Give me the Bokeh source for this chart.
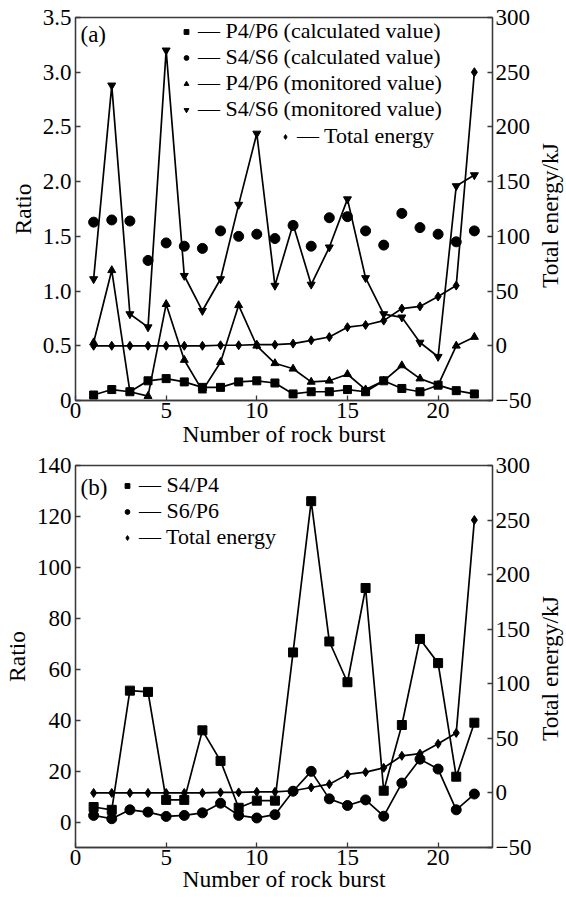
import math
from bokeh.plotting import figure
from bokeh.models import Range1d, LinearAxis, Legend, LegendItem, Label, FixedTicker
from bokeh.layouts import column, row
from bokeh.embed import file_html
from bokeh.resources import INLINE

FONT = "Liberation Serif"

burst = list(range(1, 23))

# Panel (a)
p4p6_calc = [0.05, 0.10, 0.08, 0.18, 0.20, 0.17, 0.12, 0.12, 0.17, 0.18, 0.16, 0.06,
             0.08, 0.08, 0.10, 0.08, 0.18, 0.11, 0.08, 0.14, 0.09, 0.06]
s4s6_calc = [1.63, 1.65, 1.64, 1.28, 1.44, 1.41, 1.39, 1.55, 1.50, 1.52, 1.48, 1.60,
             1.41, 1.67, 1.68, 1.55, 1.42, 1.71, 1.58, 1.52, 1.45, 1.55]
p4p6_mon = [0.53, 1.19, 0.08, 0.04, 0.88, 0.37, 0.09, 0.35, 0.87, 0.50, 0.34, 0.29,
            0.17, 0.18, 0.24, 0.10, 0.18, 0.32, 0.20, 0.14, 0.50, 0.58]
s4s6_mon = [1.11, 2.88, 0.79, 0.67, 3.20, 1.14, 0.82, 1.11, 1.79, 2.44, 1.05, 1.61,
            1.06, 1.40, 1.84, 1.12, 0.79, 0.76, 0.53, 0.40, 1.96, 2.06]
energy = [0, 0, 0, 0, 0, 0, 0, 0.5, 0.5, 1, 1, 2, 5, 8, 17, 19, 23, 34, 36, 45, 55, 250]

# Panel (b)
s4p4 = [5.9, 4.8, 51.6, 51.1, 8.7, 8.7, 36, 24, 5.6, 8.4, 8.4, 66.6, 126, 70.9, 54.9,
        91.9, 12.3, 38.1, 71.9, 62.4, 17.8, 39]
s6p6 = [2.6, 1.3, 4.8, 3.9, 2.2, 2.6, 3.6, 7.4, 2.6, 1.6, 2.9, 12.1, 19.9, 9.1, 6.5,
        8.7, 2.3, 15.3, 24.7, 20.8, 4.8, 11]

x_ticks = [0, 5, 10, 15, 20]
ya_ticks = [0, 0.5, 1.0, 1.5, 2.0, 2.5, 3.0, 3.5]
ya_labels = ["0", "0.5", "1.0", "1.5", "2.0", "2.5", "3.0", "3.5"]
yb_ticks = [0, 20, 40, 60, 80, 100, 120, 140]
e_ticks = [-50, 0, 50, 100, 150, 200, 250, 300]
e_labels = ["\u221250", "0", "50", "100", "150", "200", "250", "300"]

TICK_FS = "23px"
LABEL_FS = "23.5px"
LEG_FS = "22px"
LW = 1.7
AXC = "#3a3a3a"


def style_axis(ax):
    ax.major_label_text_font = FONT
    ax.major_label_text_font_size = TICK_FS
    ax.axis_label_text_font = FONT
    ax.axis_label_text_font_size = LABEL_FS
    ax.axis_label_text_font_style = "normal"
    ax.axis_line_color = AXC
    ax.axis_line_width = 1.3
    ax.major_tick_line_color = AXC
    ax.major_tick_line_width = 1.3
    ax.minor_tick_line_color = None
    ax.major_label_text_color = "black"
    ax.axis_label_text_color = "black"
    ax.major_tick_in = 5
    ax.major_tick_out = 0


def make_fig(fh, top, bottom, yr, yticks, ylabels, xl_standoff):
    p = figure(frame_width=417, frame_height=fh, x_range=Range1d(0, 23),
               y_range=Range1d(*yr), output_backend="svg", toolbar_location=None,
               min_border_left=75, min_border_right=40, min_border_top=top,
               min_border_bottom=bottom)
    p.extra_y_ranges = {"e": Range1d(-50, 300)}
    p.grid.visible = False
    p.outline_line_color = AXC
    p.outline_line_width = 1.3
    p.background_fill_color = "white"
    p.border_fill_color = "white"
    xa = p.xaxis[0]
    xa.ticker = FixedTicker(ticks=x_ticks)
    xa.axis_label = "Number of rock burst"
    style_axis(xa)
    xa.major_label_standoff = 2
    xa.axis_label_standoff = xl_standoff
    ya = p.yaxis[0]
    ya.ticker = FixedTicker(ticks=yticks)
    ya.major_label_overrides = {t: l for t, l in zip(yticks, ylabels)}
    ya.axis_label = "Ratio"
    style_axis(ya)
    ya.major_label_standoff = 4
    ya.axis_label_standoff = 4
    ra = LinearAxis(y_range_name="e")
    ra.ticker = FixedTicker(ticks=e_ticks)
    ra.major_label_overrides = {t: l for t, l in zip(e_ticks, e_labels)}
    style_axis(ra)
    ra.major_label_standoff = 3
    p.add_layout(ra, "right")
    return p


def make_legend(items, loc):
    return Legend(items=items, location=loc, background_fill_alpha=0,
                  border_line_color=None, padding=0, margin=0, spacing=-3,
                  glyph_width=12, glyph_height=21, label_height=21,
                  label_standoff=6, label_text_font=FONT,
                  label_text_font_size=LEG_FS, label_text_color="black")


# ---------- Panel (a)
pa = make_fig(383, 17, 20, (0, 3.5), ya_ticks, ya_labels, 0)

pa.line(burst, energy, y_range_name="e", color="black", line_width=LW)
e_a = pa.scatter(burst, energy, y_range_name="e", marker="diamond", size=9, color="black")
pa.line(burst, p4p6_calc, color="black", line_width=LW)
sq_a = pa.scatter(burst, p4p6_calc, marker="square", size=8, color="black")
ci_a = pa.scatter(burst, s4s6_calc, marker="circle", size=10, color="black")
pa.line(burst, p4p6_mon, color="black", line_width=LW)
tu_a = pa.scatter(burst, p4p6_mon, marker="triangle", size=8, color="black")
pa.line(burst, s4s6_mon, color="black", line_width=LW)
td_a = pa.scatter(burst, s4s6_mon, marker="inverted_triangle", size=8, color="black")

leg1 = make_legend([
    LegendItem(label="\u2014 P4/P6 (calculated value)", renderers=[sq_a]),
    LegendItem(label="\u2014 S4/S6 (calculated value)", renderers=[ci_a]),
    LegendItem(label="\u2014 P4/P6 (monitored value)", renderers=[tu_a]),
    LegendItem(label="\u2014 S4/S6 (monitored value)", renderers=[td_a]),
], (105, 278))
leg2 = make_legend([LegendItem(label="\u2014 Total energy", renderers=[e_a])], (204, 251))
pa.add_layout(leg1)
pa.add_layout(leg2)
pa.add_layout(Label(x=5, y=366, x_units="screen", y_units="screen", text="(a)",
                    text_baseline="middle", text_font=FONT, text_font_size="23px",
                    text_color="black"))

# ---------- Panel (b)
pb = make_fig(382, 16, 20, (-10, 140), yb_ticks, [str(t) for t in yb_ticks], -2)
pb.line(burst, energy, y_range_name="e", color="black", line_width=LW)
e_b = pb.scatter(burst, energy, y_range_name="e", marker="diamond", size=9, color="black")
pb.line(burst, s4p4, color="black", line_width=LW)
sq_b = pb.scatter(burst, s4p4, marker="square", size=9, color="black")
pb.line(burst, s6p6, color="black", line_width=LW)
ci_b = pb.scatter(burst, s6p6, marker="circle", size=10, color="black")

leg3 = make_legend([
    LegendItem(label="\u2014 S4/P4", renderers=[sq_b]),
    LegendItem(label="\u2014 S6/P6", renderers=[ci_b]),
    LegendItem(label="\u2014 Total energy", renderers=[e_b]),
], (46, 297))
pb.add_layout(leg3)
pb.add_layout(Label(x=5, y=360, x_units="screen", y_units="screen", text="(b)",
                    text_baseline="middle", text_font=FONT, text_font_size="23px",
                    text_color="black"))

# narrow strip on the right carrying both right-hand axis titles (bottom-to-top)
STRIP_H = 896
strip = figure(width=30, height=STRIP_H, x_range=Range1d(0, 1), y_range=Range1d(0, 1),
               output_backend="svg", toolbar_location=None, min_border=0)
strip.axis.visible = False
strip.grid.visible = False
strip.outline_line_color = None
for center_from_top in (215, 668):
    strip.add_layout(Label(x=15, y=STRIP_H - center_from_top, x_units="screen",
                           y_units="screen", text="Total energy/kJ", angle=math.pi / 2,
                           text_align="center", text_baseline="middle", text_font=FONT,
                           text_font_size=LABEL_FS, text_color="black"))

layout = row(column(pa, pb, spacing=0), strip, spacing=0)
open("out.html", "w").write(file_html(layout, INLINE))
